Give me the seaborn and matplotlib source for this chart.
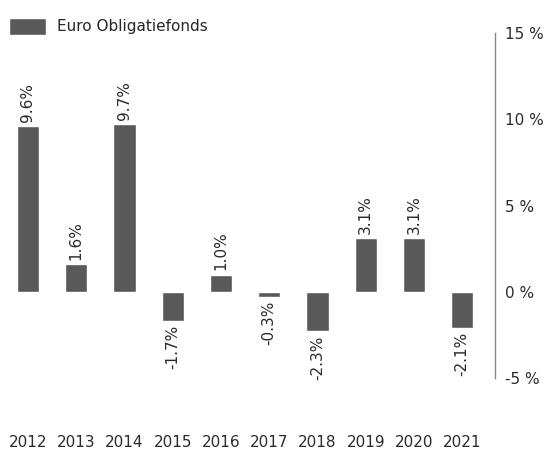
import pandas as pd
import matplotlib.pyplot as plt
import seaborn as sns

# data
years = ["2012", "2013", "2014", "2015", "2016", "2017", "2018", "2019", "2020", "2021"]
returns = [9.6, 1.6, 9.7, -1.7, 1.0, -0.3, -2.3, 3.1, 3.1, -2.1]
series_name = "Euro Obligatiefonds"

df = pd.DataFrame({"Year": years, "Return": returns})

sns.set_theme(style="white")
plt.rcParams["font.family"] = ["DejaVu Sans"]

fig = plt.figure(figsize=(5.48, 4.49), dpi=100)
ax = fig.add_axes([0.0, 1 - 378 / 449, 495 / 548, (378 - 33) / 449])

sns.barplot(data=df, x="Year", y="Return", color="#595959", width=0.46,
            saturation=1, label=series_name, ax=ax)

ax.set_ylim(-5, 15)
ax.set_xlim(-0.58, 9.68)
ax.set_yticks([-5, 0, 5, 10, 15])
ax.set_yticklabels([f"{v} %" for v in [-5, 0, 5, 10, 15]])
ax.yaxis.tick_right()
ax.set_xlabel("")
ax.set_ylabel("")

for side in ["top", "left", "bottom"]:
    ax.spines[side].set_visible(False)
ax.spines["right"].set_color("#7a8a99")
ax.spines["right"].set_linewidth(1.0)

ax.tick_params(axis="y", length=0, pad=7, labelsize=11, labelcolor="#2a2a2a")
ax.tick_params(axis="x", length=0, pad=41, labelsize=11, labelcolor="#2a2a2a")

# value labels
for i, v in enumerate(returns):
    if v >= 0:
        ax.annotate(f"{v}%", (i, v), xytext=(0, 3), textcoords="offset points",
                    rotation=90, ha="center", va="bottom", fontsize=11, color="#2a2a2a")
    else:
        ax.annotate(f"{v}%", (i, v), xytext=(0, -3), textcoords="offset points",
                    rotation=90, ha="center", va="top", fontsize=11, color="#2a2a2a")

ax.legend(loc="upper left", bbox_to_anchor=(0.0, 1.07), frameon=False, fontsize=11,
          handlelength=2.4, handleheight=1.3, handletextpad=0.7, borderaxespad=0.2)

fig.savefig("out.png", dpi=100)
